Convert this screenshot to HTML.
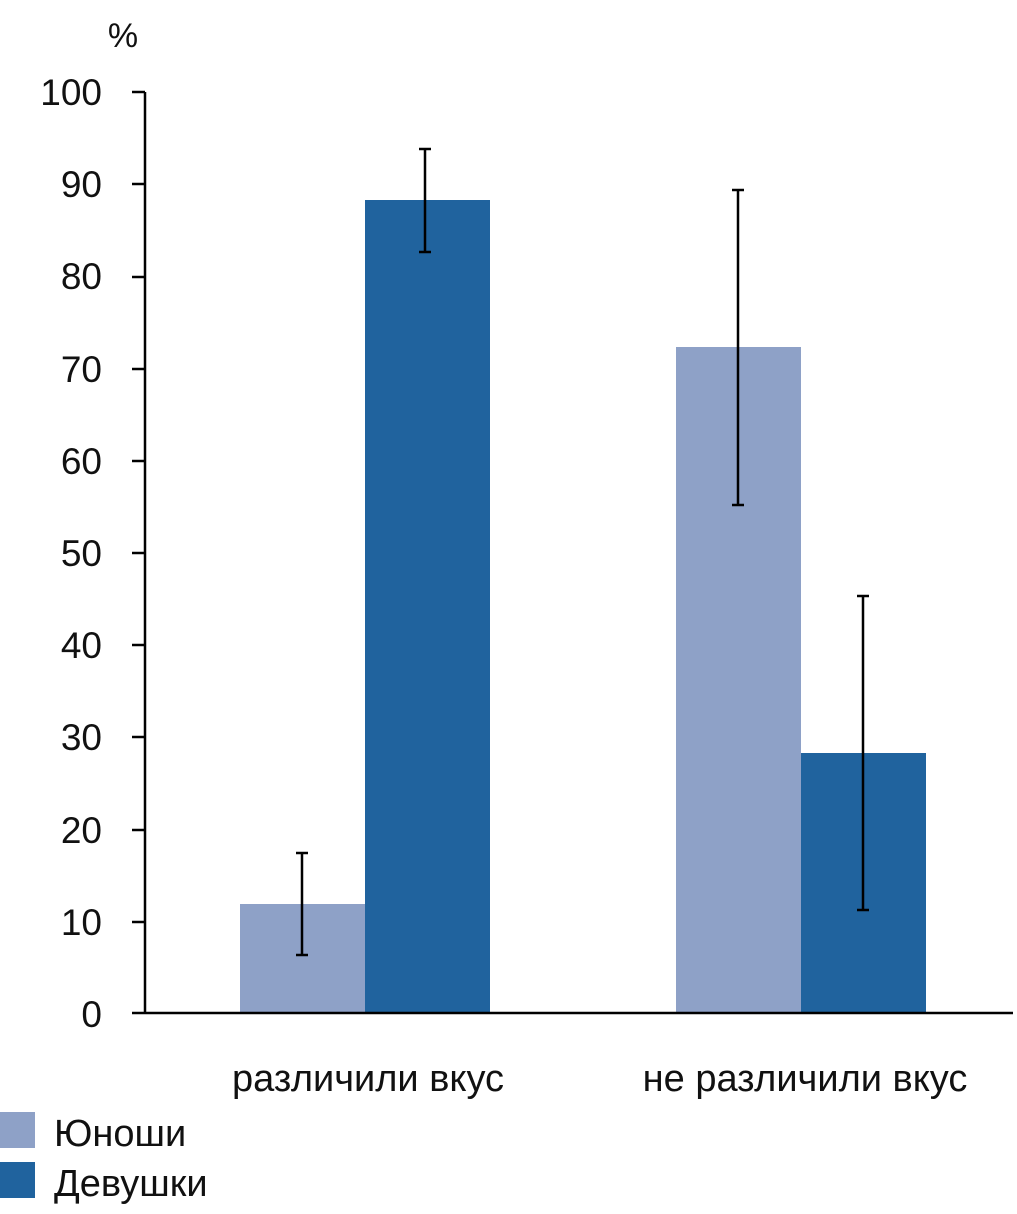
<!DOCTYPE html>
<html><head><meta charset="utf-8"><style>
html,body{margin:0;padding:0;background:#fff;}
svg{display:block;}
text{font-family:"Liberation Sans","DejaVu Sans",sans-serif;fill:#111;}
</style></head><body>
<svg width="1017" height="1214" viewBox="0 0 1017 1214" xmlns="http://www.w3.org/2000/svg">
<text x="123" y="47" font-size="34" text-anchor="middle">%</text>
<g font-size="37" text-anchor="end">
<text x="102" y="105">100</text>
<text x="102" y="197">90</text>
<text x="102" y="289">80</text>
<text x="102" y="382">70</text>
<text x="102" y="474">60</text>
<text x="102" y="566">50</text>
<text x="102" y="658">40</text>
<text x="102" y="750">30</text>
<text x="102" y="843">20</text>
<text x="102" y="935">10</text>
<text x="102" y="1027">0</text>
</g>
<rect x="240" y="904" width="125" height="109" fill="#8ea1c7"/>
<rect x="365" y="200" width="125" height="813" fill="#20639e"/>
<rect x="676" y="347" width="125" height="666" fill="#8ea1c7"/>
<rect x="801" y="753" width="125" height="260" fill="#20639e"/>
<g stroke="#000" stroke-width="2.5" fill="none">
<line x1="145" y1="92" x2="145" y2="1013"/>
<line x1="145" y1="1013" x2="1013" y2="1013"/>
<line x1="132" y1="92" x2="145" y2="92"/>
<line x1="132" y1="184" x2="145" y2="184"/>
<line x1="132" y1="277" x2="145" y2="277"/>
<line x1="132" y1="369" x2="145" y2="369"/>
<line x1="132" y1="461" x2="145" y2="461"/>
<line x1="132" y1="553" x2="145" y2="553"/>
<line x1="132" y1="645" x2="145" y2="645"/>
<line x1="132" y1="737" x2="145" y2="737"/>
<line x1="132" y1="830" x2="145" y2="830"/>
<line x1="132" y1="922" x2="145" y2="922"/>
<line x1="132" y1="1013" x2="145" y2="1013"/>
<line x1="302" y1="853" x2="302" y2="955"/><line x1="296" y1="853" x2="308" y2="853"/><line x1="296" y1="955" x2="308" y2="955"/>
<line x1="425" y1="149" x2="425" y2="252"/><line x1="419" y1="149" x2="431" y2="149"/><line x1="419" y1="252" x2="431" y2="252"/>
<line x1="738" y1="190" x2="738" y2="505"/><line x1="732" y1="190" x2="744" y2="190"/><line x1="732" y1="505" x2="744" y2="505"/>
<line x1="863" y1="596" x2="863" y2="910"/><line x1="857" y1="596" x2="869" y2="596"/><line x1="857" y1="910" x2="869" y2="910"/>
</g>
<text x="368" y="1091" font-size="38" text-anchor="middle">различили вкус</text>
<text x="805" y="1091" font-size="38" text-anchor="middle">не различили вкус</text>
<rect x="0" y="1112" width="35" height="36" fill="#8ea1c7"/>
<rect x="0" y="1162" width="35" height="36" fill="#20639e"/>
<text x="54" y="1146" font-size="38">Юноши</text>
<text x="54" y="1196" font-size="38">Девушки</text>
</svg>
</body></html>
